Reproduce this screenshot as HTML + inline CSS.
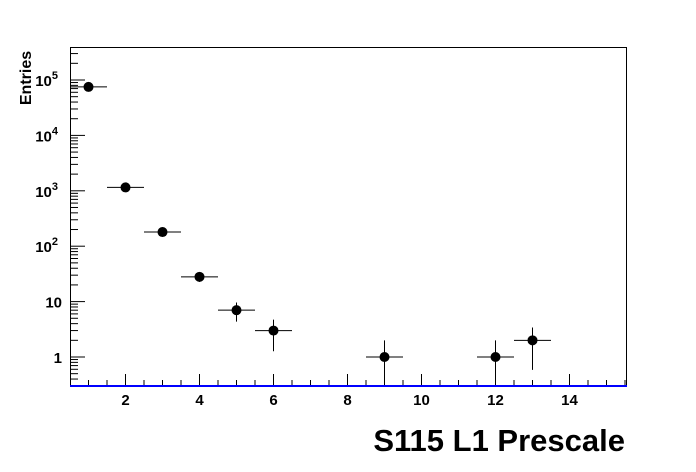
<!DOCTYPE html>
<html><head><style>body{margin:0;background:#fff}svg{display:block}</style></head>
<body>
<svg id="s" width="696" height="472" xmlns="http://www.w3.org/2000/svg" font-family="Liberation Sans, sans-serif" font-weight="bold">
<rect width="696" height="472" fill="#fff"/>
<rect x="70.5" y="47.5" width="556" height="339" fill="none" stroke="#000" stroke-width="1"/>
<g id="g"></g>
<line x1="70" y1="386" x2="627" y2="386" stroke="#0000ff" stroke-width="2"/>
<text x="625" y="451" text-anchor="end" font-size="31">S115 L1 Prescale</text>
<text transform="translate(31,78) rotate(-90)" text-anchor="middle" font-size="16">Entries</text>
</svg>
<script>
var g=document.getElementById('g'),h='';
function X(v){return 70+37*(v-0.5);}
function Y(v){return 357-55.4*Math.log10(v);}
function L(a,b,c,d,w){h+='<line x1="'+a+'" y1="'+b+'" x2="'+c+'" y2="'+d+'" stroke="#000" stroke-width="'+(w||1)+'"/>';}
for(var v=1;v<=15.5;v+=0.5){var x=X(v),maj=(v%2==0);L(x,386,x,386-(maj?12:6));
 if(maj)h+='<text x="'+x+'" y="405" text-anchor="middle" font-size="15">'+v+'</text>';}
for(var d=-1;d<=5;d++)for(var m=1;m<10;m++){var val=m*Math.pow(10,d),y=Y(val);if(y>386||y<47)continue;L(70,y,70+(m==1?15:8),y);}
var labs=['1','10','10<tspan dy="-7" font-size="11">2</tspan>','10<tspan dy="-7" font-size="11">3</tspan>','10<tspan dy="-7" font-size="11">4</tspan>','10<tspan dy="-7" font-size="11">5</tspan>'];
for(var d=0;d<=5;d++){var y=Y(Math.pow(10,d));h+='<text x="'+(d>=2?58:62)+'" y="'+(y+6)+'" text-anchor="end" font-size="15">'+labs[d]+'</text>';}
var data=[[1,75000],[2,1150],[3,180],[4,28],[5,7],[6,3],[9,1],[12,1],[13,2]];
data.forEach(function(p){var x=X(p[0]),y=Y(p[1]),e=Math.sqrt(p[1]);
 L(x-18.5,y,x+18.5,y);var lo=p[1]-e;var ylo=lo>0?Math.min(Y(lo),386):386;L(x,Y(p[1]+e),x,ylo);
 h+='<circle cx="'+x+'" cy="'+y+'" r="5" fill="#000"/>';});
g.innerHTML=h;
</script>
</body></html>
